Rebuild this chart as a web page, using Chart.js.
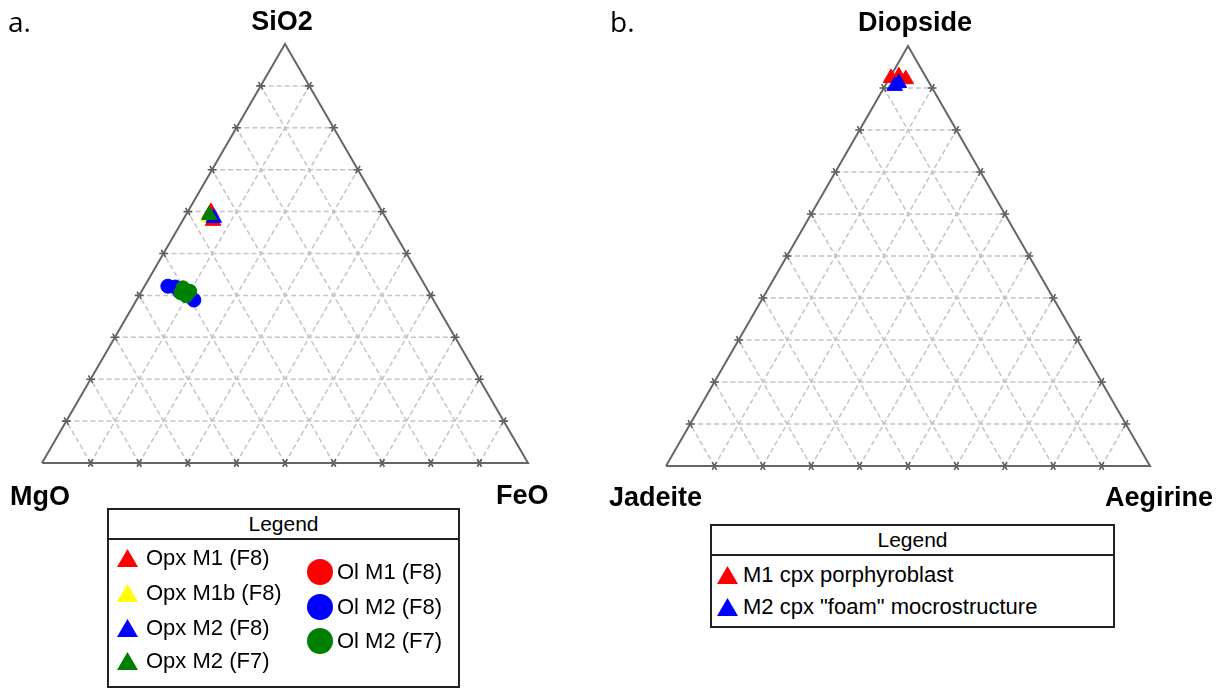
<!DOCTYPE html>
<html>
<head>
<meta charset="utf-8">
<script src="https://cdn.jsdelivr.net/npm/chart.js@4.4.1/dist/chart.umd.min.js"></script>
<style>
    body { margin: 0; background: #fff; font-family: "Liberation Sans", Arial, sans-serif; color: #000; }
    #page { position: relative; width: 1228px; height: 688px; overflow: hidden; }
    canvas { position: absolute; top: 0; }
    .vtx { position: absolute; font-weight: bold; font-size: 27px; line-height: 27px; white-space: nowrap; }
    .panel { position: absolute; font-family: "Open Sans", sans-serif; font-size: 28px; line-height: 28px; }
    .legend { position: absolute; border: 2px solid #222; box-sizing: border-box; background: #fff; }
    .legend .head { height: 28px; border-bottom: 2px solid #222; text-align: center; font-size: 21px; line-height: 28px; }
    .item { position: absolute; font-size: 22px; line-height: 22px; white-space: nowrap; }
    .mk { position: absolute; }
    .mk.triangle { width: 21px; height: 18px; clip-path: polygon(50% 0, 100% 100%, 0 100%); }
    .mk.circle { width: 26px; height: 26px; border-radius: 50%; }
</style>
</head>
<body>
<div id="page">
    <canvas id="chartA" width="570" height="500" style="left:0"></canvas>
    <canvas id="chartB" width="628" height="500" style="left:600px"></canvas>

    <div class="panel" style="left:8px; top:7px">a.</div>
    <div class="panel" style="left:610px; top:7px">b.</div>

    <div class="vtx" id="topA" style="left:282px; top:8px; transform:translateX(-50%)"></div>
    <div class="vtx" id="leftA" style="left:10px; top:483px"></div>
    <div class="vtx" id="rightA" style="left:496px; top:482px"></div>
    <div class="vtx" id="topB" style="left:915px; top:9px; transform:translateX(-50%)"></div>
    <div class="vtx" id="leftB" style="left:609px; top:484px"></div>
    <div class="vtx" id="rightB" style="left:1105px; top:484px"></div>

    <div class="legend" id="legendA" style="left:107px; top:508px; width:353px; height:180px"><div class="head">Legend</div></div>
    <div class="legend" id="legendB" style="left:710px; top:524px; width:405px; height:104px"><div class="head">Legend</div></div>
</div>

<script>
"use strict";

// Panel a: SiO2 - MgO - FeO
const cornersA = ["SiO2", "MgO", "FeO"];
const namesA = ["Opx M1 (F8)", "Opx M1b (F8)", "Opx M2 (F8)", "Opx M2 (F7)", "Ol M1 (F8)", "Ol M2 (F8)", "Ol M2 (F7)"];
const sio2A = [[59.9, 57.8], [58.7], [58.5], [59.2], [40.8], [42.2, 42.0, 40.8, 38.9], [41.8, 41.0, 39.9, 40.6]];
const mgoA  = [[35.3, 35.9], [36.3], [35.4], [36.0], [50.4], [53.0, 51.6, 51.2, 49.3], [50.1, 49.1, 50.4, 51.1]];
const feoA  = [[4.8, 6.3], [5.0], [6.1], [4.8], [8.8], [4.8, 6.4, 8.0, 11.8], [8.1, 9.9, 9.7, 8.3]];

// Panel b: Diopside - Jadeite - Aegirine
const cornersB = ["Diopside", "Jadeite", "Aegirine"];
const namesB = ["M1 cpx porphyroblast", "M2 cpx \"foam\" mocrostructure"];
const diB = [[92.4, 92.8, 92.1], [91.2, 90.5]];
const jdB = [[7.3, 5.5, 4.4], [6.3, 7.5]];
const aeB = [[0.3, 1.7, 3.5], [2.5, 2.0]];

// grid every 10 %
const gridSteps = [10, 20, 30, 40, 50, 60, 70, 80, 90];

// styles
const colorsA = ["#ff0000", "#ffff00", "#0000ff", "#008000", "#ff0000", "#0000ff", "#008000"];
const shapesA = ["triangle", "triangle", "triangle", "triangle", "circle", "circle", "circle"];
const colorsB = ["#ff0000", "#0000ff"];
const shapesB = ["triangle", "triangle"];

const H = Math.sqrt(3) / 2;

// top / right fractions (left = rest) -> x,y
function toXY(top, right) {
    return { x: right / 100 + top / 200, y: top / 100 * H };
}

function frameDatasets() {
    let grid = [], ticks = [];
    const tl = 0.009;
    const dirs = { top: [1, 0], right: [0.5, H], left: [-0.5, H] };

    function tick(p, d) {
        ticks.push({ x: p.x - d[0] * tl, y: p.y - d[1] * tl });
        ticks.push({ x: p.x + d[0] * tl, y: p.y + d[1] * tl });
        ticks.push({ x: p.x, y: null });
    }

    gridSteps.forEach(s => {
        // constant top component
        grid.push(toXY(s, 0), toXY(s, 100 - s), { x: 0, y: null });
        // constant right component
        grid.push(toXY(0, s), toXY(100 - s, s), { x: 0, y: null });
        // constant left component
        grid.push(toXY(0, 100 - s), toXY(100 - s, 0), { x: 0, y: null });

        let pb = toXY(0, s), pl = toXY(s, 0), pr = toXY(s, 100 - s);
        tick(pb, dirs.right); tick(pb, dirs.left);
        tick(pl, dirs.top); tick(pl, dirs.left);
        tick(pr, dirs.top); tick(pr, dirs.right);
    });

    let outline = [toXY(0, 0), toXY(0, 100), toXY(100, 0), toXY(0, 0)];

    return [
        { data: grid, showLine: true, borderColor: "#c4c4c4", borderWidth: 1.5, borderDash: [5, 3], pointRadius: 0, spanGaps: false, clip: false, order: 30 },
        { data: outline, showLine: true, borderColor: "#666666", borderWidth: 2, pointRadius: 0, clip: false, order: 20 },
        { data: ticks, showLine: true, borderColor: "#5a5a5a", borderWidth: 1.6, pointRadius: 0, spanGaps: false, clip: false, order: 25 }
    ];
}

function makeChart(id, pad, names, tops, rights, colors, shapes) {
    let sets = frameDatasets();
    names.forEach((name, i) => {
        sets.push({
            label: name,
            data: tops[i].map((t, j) => toXY(t, rights[i][j])),
            pointStyle: shapes[i],
            pointRadius: shapes[i] === "triangle" ? 9 : 7,
            backgroundColor: colors[i],
            borderColor: colors[i],
            borderWidth: 1,
            clip: false,
            order: -i
        });
    });

    return new Chart(document.getElementById(id), {
        type: "scatter",
        data: { datasets: sets },
        options: {
            responsive: false,
            animation: false,
            events: [],
            layout: { padding: pad },
            scales: {
                x: { type: "linear", min: 0, max: 1, display: false },
                y: { type: "linear", min: 0, max: H, display: false }
            },
            plugins: { legend: { display: false }, tooltip: { enabled: false } }
        }
    });
}

makeChart("chartA", { left: 42, right: 42, top: 44, bottom: 37 }, namesA, sio2A, feoA, colorsA, shapesA);
makeChart("chartB", { left: 66, right: 78, top: 46, bottom: 34 }, namesB, diB, aeB, colorsB, shapesB);

// corner labels
document.getElementById("topA").textContent = cornersA[0];
document.getElementById("leftA").textContent = cornersA[1];
document.getElementById("rightA").textContent = cornersA[2];
document.getElementById("topB").textContent = cornersB[0];
document.getElementById("leftB").textContent = cornersB[1];
document.getElementById("rightB").textContent = cornersB[2];

// html legends
function buildLegend(boxId, names, colors, shapes, slots) {
    let box = document.getElementById(boxId);
    names.forEach((name, i) => {
        let s = slots[i];
        let mk = document.createElement("div");
        mk.className = "mk " + shapes[i];
        mk.style.background = colors[i];
        let h = shapes[i] === "triangle" ? 18 : 26;
        mk.style.left = s[0] + "px";
        mk.style.top = (s[2] - h / 2) + "px";
        box.appendChild(mk);

        let tx = document.createElement("div");
        tx.className = "item";
        tx.textContent = name;
        tx.style.left = s[1] + "px";
        tx.style.top = (s[2] - 11) + "px";
        box.appendChild(tx);
    });
}

buildLegend("legendA", namesA, colorsA, shapesA, [
    [8, 37, 48], [8, 37, 83], [8, 37, 118], [8, 37, 151],
    [198, 228, 62], [198, 228, 97], [198, 228, 131]
]);
buildLegend("legendB", namesB, colorsB, shapesB, [
    [5, 31, 49], [5, 31, 81]
]);
</script>
</body>
</html>
